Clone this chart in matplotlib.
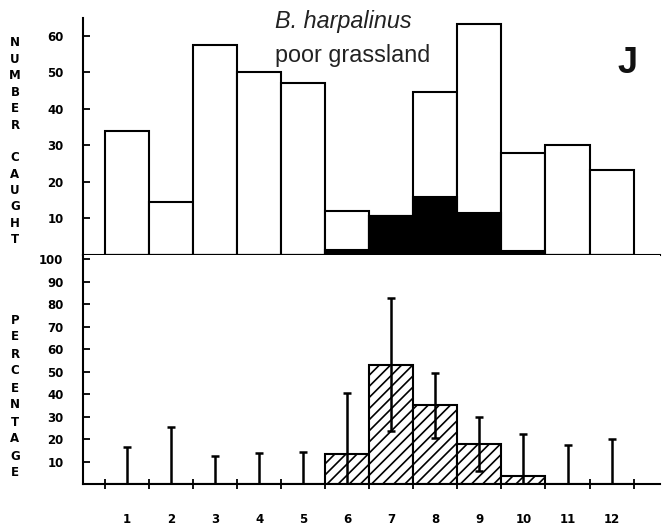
import numpy as np
import matplotlib
matplotlib.use('Agg')
import matplotlib.pyplot as plt

# months 1..12
months = np.arange(1, 13)
# top panel: total caught (white) and the black part
total = [34, 14.5, 57.5, 50, 47, 12, 10.7, 44.5, 63.3, 28, 30, 23.3]
black = [0, 0, 0, 0, 0, 1.5, 10.7, 16, 11.5, 1, 0, 0]
# bottom panel: percentage with error bars
pct = [0, 0, 0, 0, 0, 13.2, 53, 35, 17.8, 3.7, 0, 0]
err = [16.6, 25.5, 12.6, 13.9, 14.2, 27.4, 29.6, 14.4, 12, 18.4, 17.3, 19.9]

top_ticks = [10, 20, 30, 40, 50, 60]
bot_ticks = [10, 20, 30, 40, 50, 60, 70, 80, 90, 100]

W, H = 663, 530
fig = plt.figure(figsize=(W / 100, H / 100), dpi=100)
ax1 = fig.add_axes([83 / W, 1 - 255 / H, 577 / W, (255 - 18) / H])
ax2 = fig.add_axes([83 / W, 1 - 484 / H, 577 / W, (484 - 255) / H])

lw = 1.5
tickfont = dict(family='DejaVu Sans', weight='bold', size=8.5)

# top panel
ax1.bar(months, total, width=1, facecolor='white', edgecolor='black', linewidth=lw, zorder=2)
ax1.bar(months, black, width=1, facecolor='black', edgecolor='black', linewidth=lw, zorder=3)
ax1.set_xlim(0, 13.1)
ax1.set_ylim(0, 64.9)

# bottom panel
plt.rcParams['hatch.linewidth'] = 1.2
ax2.bar(months, pct, width=1, facecolor='white', edgecolor='black', linewidth=lw,
        hatch='///', zorder=2)
lower = np.minimum(err, pct)
ax2.errorbar(months, pct, yerr=[lower, err], fmt='none', ecolor='black',
             elinewidth=1.8, capsize=3, capthick=1.8, zorder=4)
ax2.set_xlim(0, 13.1)
ax2.set_ylim(0, 101.8)

edges = np.arange(0.5, 13, 1)
for ax, ticks in ((ax1, top_ticks), (ax2, bot_ticks)):
    for s in ('top', 'right'):
        ax.spines[s].set_visible(False)
    ax.spines['left'].set_linewidth(lw)
    ax.spines['bottom'].set_linewidth(lw)
    ax.set_yticks(ticks)
    ax.set_yticklabels([str(t) for t in ticks], fontdict=tickfont)
    ax.tick_params(axis='y', direction='in', length=5, width=1.3, pad=14)
    ax.set_xticks(edges)
    ax.set_xticklabels([])
    ax.tick_params(axis='x', which='major', direction='inout', length=7, width=1.3)

ax2.set_xticks(months, minor=True)
ax2.set_xticklabels([str(m) for m in months], minor=True, fontdict=tickfont)
ax2.tick_params(axis='x', which='minor', length=0, pad=21)

# stacked axis labels
for i, ch in enumerate('NUMBER CAUGHT'):
    fig.text(15 / W, 1 - (43 + i * 16.4) / H, ch, ha='center', va='center', **tickfont)
for i, ch in enumerate('PERCENTAGE'):
    fig.text(15 / W, 1 - (320 + i * 17) / H, ch, ha='center', va='center', **tickfont)

# title and panel letter
fig.text(275 / W, 1 - 28 / H, 'B. harpalinus', family='Liberation Sans', style='italic',
         fontsize=16.8, color='#222222', va='baseline')
fig.text(275 / W, 1 - 62 / H, 'poor grassland', family='Liberation Sans',
         fontsize=16.8, color='#222222', va='baseline')
fig.text(627 / W, 1 - 73 / H, 'J', family='Liberation Sans', weight='bold',
         fontsize=26, color='#111111', ha='center', va='baseline')

fig.savefig('out.png', dpi=100)
